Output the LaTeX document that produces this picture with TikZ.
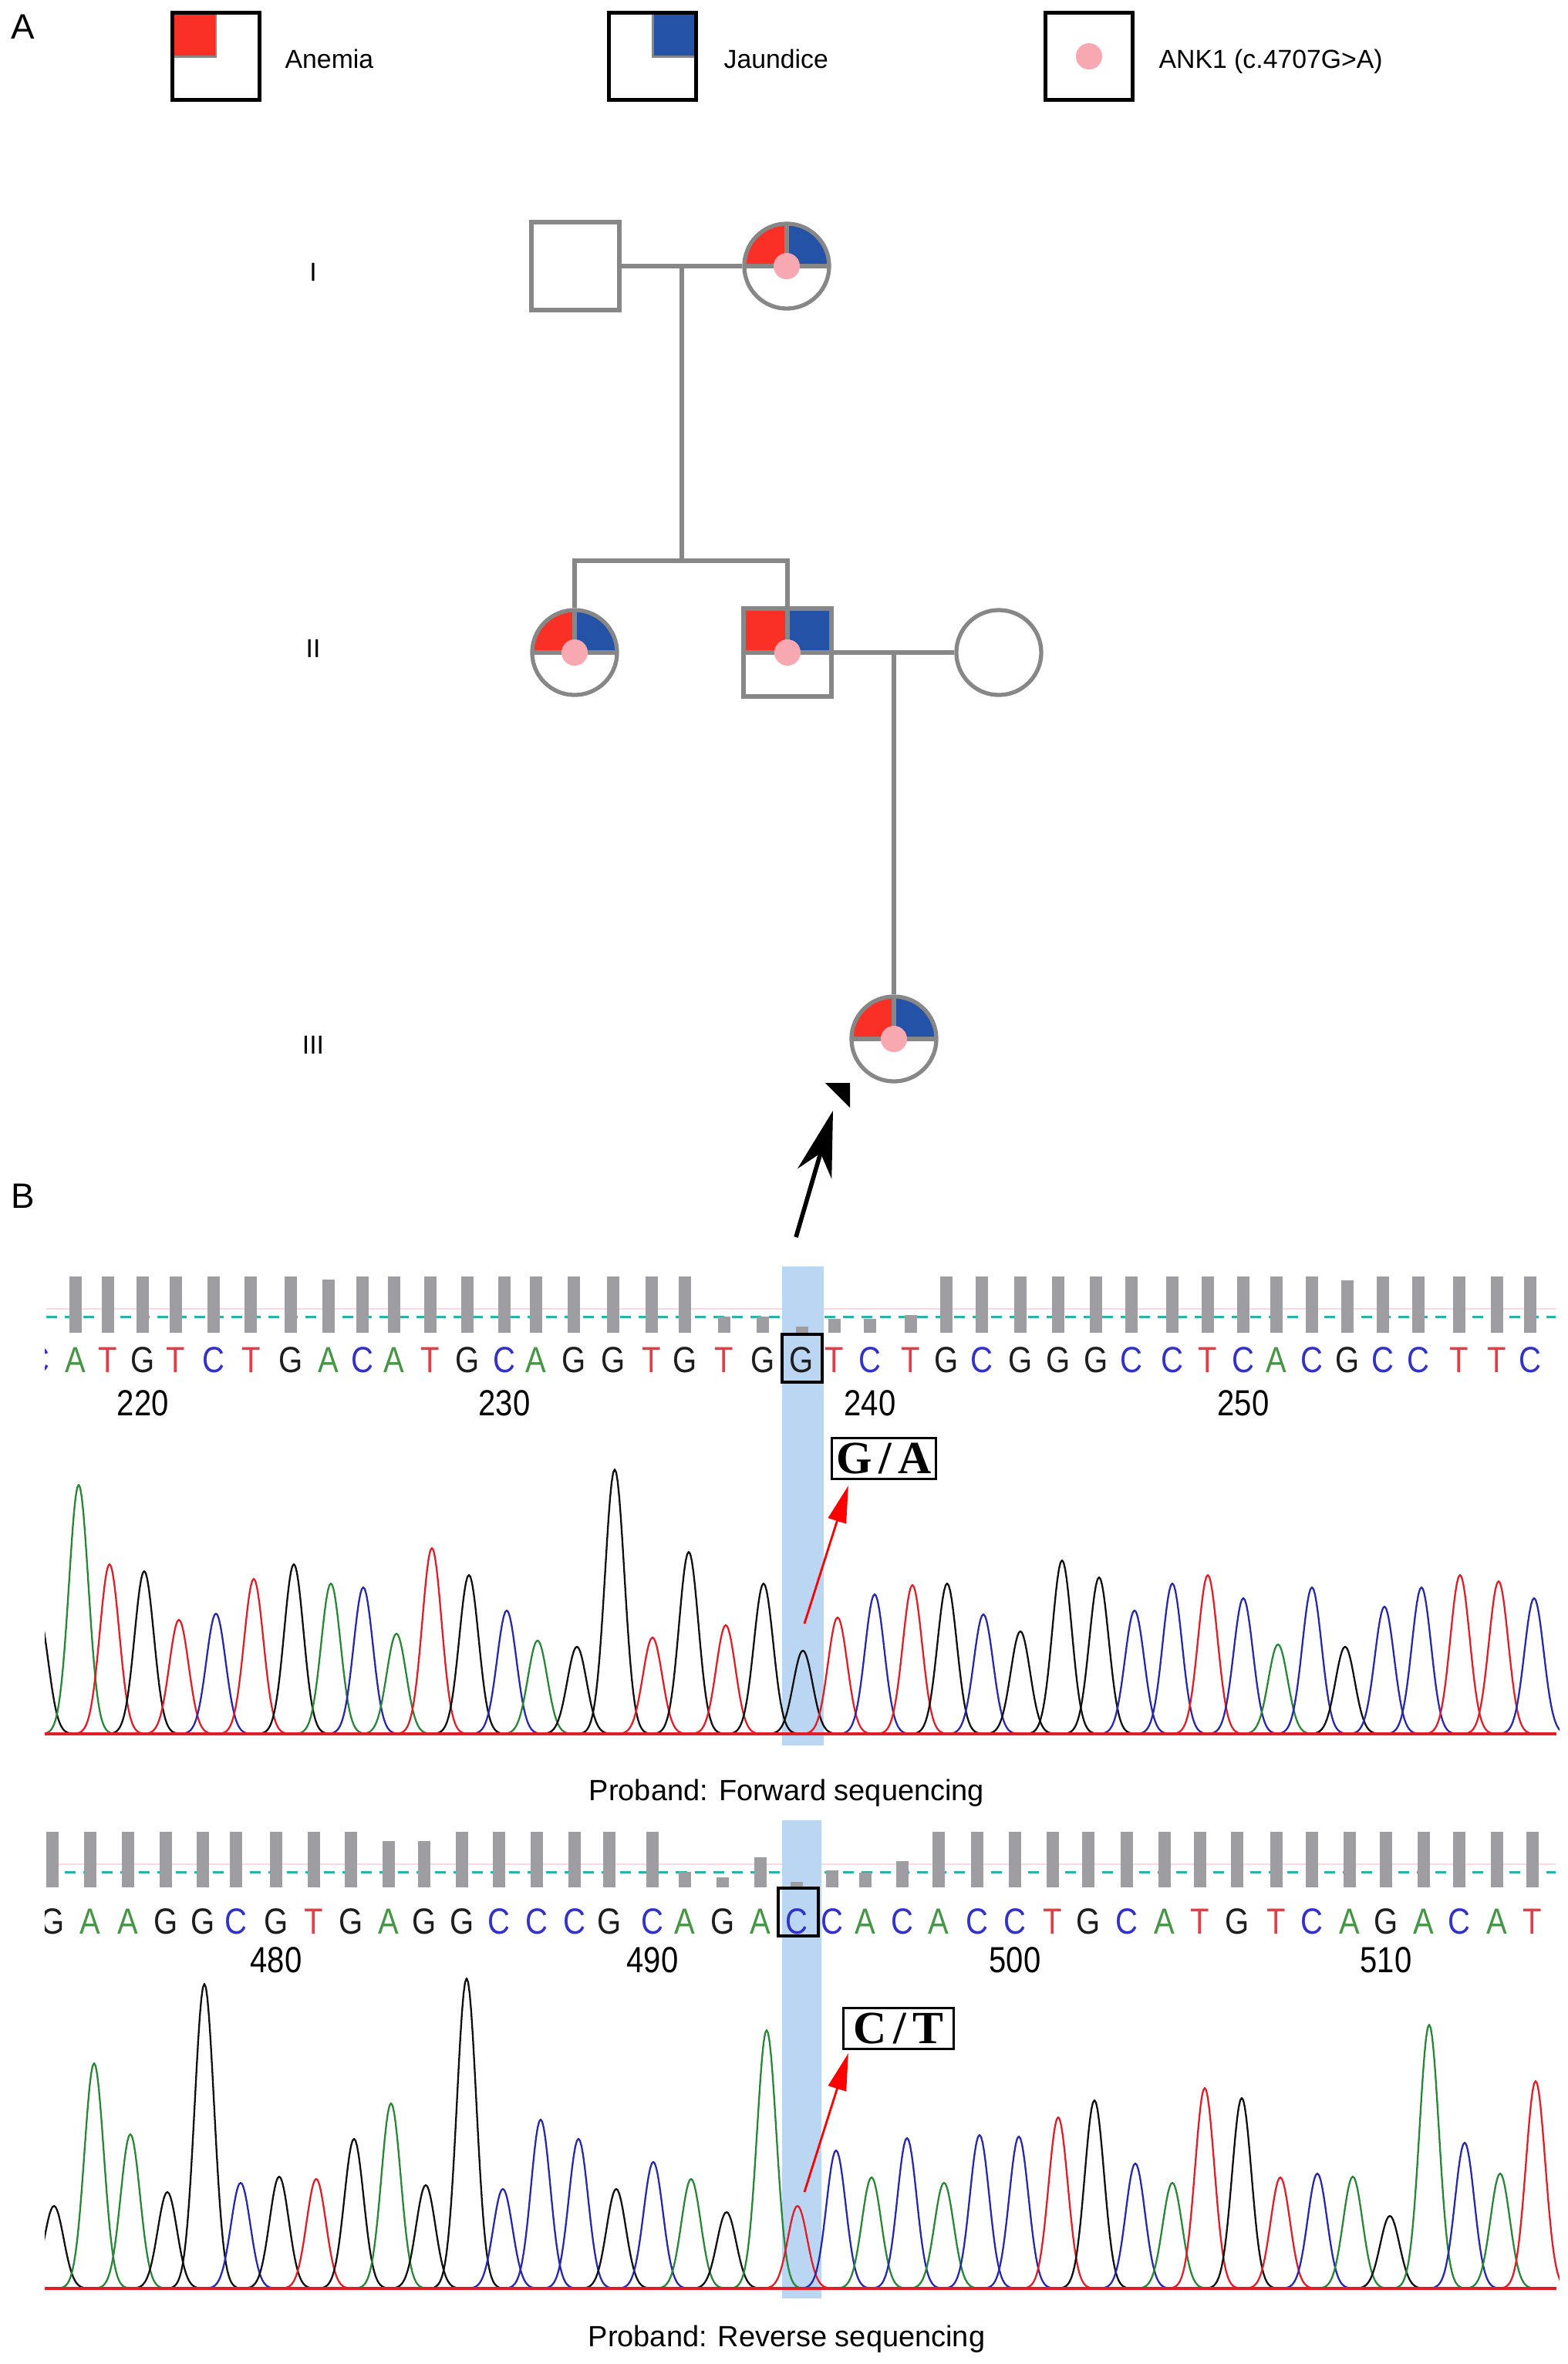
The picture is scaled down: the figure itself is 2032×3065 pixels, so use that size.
\documentclass[tikz,border=0pt]{standalone}
\usepackage{fontspec}
\setmainfont{Liberation Sans}
\newfontfamily\seqfont[FakeStretch=0.85]{Liberation Sans}
\newfontfamily\mutfont[LetterSpace=14]{Liberation Serif}
\usetikzlibrary{calc,arrows.meta}
\definecolor{pedgray}{RGB}{135,135,135}
\definecolor{pedred}{RGB}{250,47,38}
\definecolor{pedblue}{RGB}{36,82,166}
\definecolor{pedpink}{RGB}{248,168,176}
\definecolor{hl}{RGB}{187,214,243}
\definecolor{barg}{RGB}{158,158,162}
\definecolor{dashteal}{RGB}{40,180,165}
\definecolor{tA}{RGB}{40,135,55}
\definecolor{tC}{RGB}{40,40,170}
\definecolor{tG}{RGB}{15,15,15}
\definecolor{tT}{RGB}{225,30,40}
\definecolor{lA}{RGB}{70,150,70}
\definecolor{lC}{RGB}{50,50,200}
\definecolor{lG}{RGB}{30,30,30}
\definecolor{lT}{RGB}{230,60,70}
\definecolor{faintpink}{RGB}{250,215,228}
\newcommand\pk[4]{%
  \pgfmathsetmacro\pka{#1-42}\pgfmathsetmacro\pkb{#1+42}%
  \draw[trace,#3] plot[domain=\pka:\pkb,samples=43] (\x,{#4-(#4-#2)*exp(-0.5*((\x-#1)/12.5)^2)});}
\begin{document}
\begin{tikzpicture}[x=0.01cm,y=-0.01cm,
  ped/.style={draw=pedgray,line width=1.5pt},
  sqnode/.style={ped,rectangle,minimum size=1.14cm,inner sep=0pt,fill=white},
  circnode/.style={ped,circle,minimum size=1.10cm,inner sep=0pt,fill=white},
  affpic/.style={path picture={
     \fill[pedred] (path picture bounding box.north west) rectangle (path picture bounding box.center);
     \fill[pedblue] (path picture bounding box.north east) rectangle (path picture bounding box.center);
     \draw[pedgray,line width=1.5pt] (path picture bounding box.north) -- (path picture bounding box.center);
     \draw[pedgray,line width=1.5pt] (path picture bounding box.west) -- (path picture bounding box.east);
     \fill[pedpink] (path picture bounding box.center) circle[radius=0.17cm];}},
  legbox/.style={draw=black,line width=1.42pt,rectangle,minimum size=1.12cm,inner sep=0pt},
  legtext/.style={font=\fontsize{9.6pt}{11pt}\selectfont,anchor=base west,inner sep=0pt},
  gentext/.style={font=\fontsize{9.6pt}{11pt}\selectfont,anchor=base,inner sep=0pt},
  paneltext/.style={font=\fontsize{13pt}{15pt}\selectfont,anchor=base west,inner sep=0pt},
  captext/.style={font=\fontsize{10.8pt}{13pt}\selectfont,anchor=base,inner sep=0pt},
  seqL/.style={font=\seqfont\fontsize{13.4pt}{15pt}\selectfont,anchor=base,inner sep=0pt},
  trace/.style={line width=0.65pt,line join=round},
  mutbox/.style={draw=black,line width=0.9pt,font=\mutfont\bfseries\fontsize{17pt}{19pt}\selectfont,minimum height=0.53cm,inner sep=0pt},
  redarr/.style={draw=red,line width=0.8pt,-{Triangle[length=0.48cm,width=0.24cm]}},
  dashl/.style={draw=dashteal,line width=0.85pt,dash pattern=on 0.14cm off 0.1cm},
  pinkl/.style={draw=faintpink,line width=0.7pt}
]
\fill[white] (0,0) rectangle (2032,3065);
\useasboundingbox (0,0) rectangle (2032,3065);

% ---------- Panel A ----------
\node[paneltext] (A) at (14,50) {A};
\node[legbox,path picture={\filldraw[fill=pedred,draw=pedgray,line width=0.85pt] (path picture bounding box.north west) rectangle (path picture bounding box.center);}] (L1) at (280,73) {};
\node[legtext] (L1t) at (369,88) {Anemia};
\node[legbox,path picture={\filldraw[fill=pedblue,draw=pedgray,line width=0.85pt] (path picture bounding box.north east) rectangle (path picture bounding box.center);}] (L2) at (846,73) {};
\node[legtext] (L2t) at (938,88) {Jaundice};
\node[legbox,path picture={\fill[pedpink] (path picture bounding box.center) circle[radius=0.17cm];}] (L3) at (1412,73) {};
\node[legtext] (L3t) at (1502,88) {ANK1 (c.4707G>A)};

\node[gentext] (gI) at (406,364) {I};
\node[gentext] (gII) at (406,852) {II};
\node[gentext] (gIII) at (406,1366) {III};

\node[sqnode] (I1) at (746,345) {};
\node[circnode,affpic] (I2) at (1020,345) {};
\node[circnode,affpic] (II1) at (745,846) {};
\node[sqnode,affpic] (II2) at (1021,846) {};
\node[circnode] (II3) at (1295,846) {};
\node[circnode,affpic] (III1) at (1159,1347) {};

\draw[ped] (I1.east) -- (I2.west);
\coordinate (m1) at ($(I1.east)!0.5!(I2.west)$);
\coordinate (sib) at (883,727);
\draw[ped] (m1) -- (m1 |- sib);
\draw[ped] (II1.north) |- (sib) -| (II2.north);
\draw[ped] (II2.east) -- (II3.west);
\coordinate (m2) at ($(II2.east)!0.5!(II3.west)$);
\draw[ped] (m2) -- (m2 |- III1.north);

\fill[black] (1070,1404) -- (1102,1404) -- (1102,1436) -- cycle;
\coordinate (pa) at (1032,1604);
\coordinate (pb) at (1080,1440);
\draw[line width=1.6pt,-{Stealth[length=0.85cm,width=0.46cm]}] (pa) -- (pb);

% ---------- Panel B ----------
\node[paneltext] (B) at (14,1566) {B};

% forward
\draw[pinkl] (60,1697) -- (2017,1697);
\draw[dashl] (60,1707) -- (2017,1707);
\fill[hl] (1014,1642) rectangle (1068,2263);
\begin{scope}
\clip (58,1600) rectangle (2022,2275);
\node[seqL,text=lC] (fL0) at (50,1779) {C};
\foreach \xx/\bs/\tp [count=\i] in {97.6/A/1655,139.9/T/1655,185.4/G/1655,227.7/T/1655,276.5/C/1655,325.3/T/1655,377.4/G/1655,426.2/A/1659,469.7/C/1655,510.7/A/1655,558.2/T/1655,606.4/G/1655,653.9/C/1655,694.9/A/1655,743.6/G/1655,795.0/G/1655,844.5/T/1655,888.1/G/1655,938.8/T/1707,988.9/G/1707,1039.5/G/1720,1082/T/1710,1128/C/1710,1181/T/1705,1227/G/1655,1273/C/1655,1323/G/1655,1372/G/1655,1421/G/1655,1467/C/1655,1520/C/1655,1566/T/1655,1612/C/1655,1655/A/1655,1701/C/1655,1747/G/1660,1793/C/1655,1839/C/1655,1892/T/1655,1941/T/1655,1984/C/1655}{
  \fill[barg] (\xx-8,\tp) rectangle (\xx+8,1728);
  \node[seqL,text=l\bs] (fL\i) at (\xx,1779) {\bs};
}
\foreach \pc/\pt/\pcol in {50/2092/G,102/1925/A,142/2028/T,187/2037/G,232/2100/T,280/2092/C,329/2047/T,381/2028/G,429/2053/A,471/2058/C,514/2118/A,560/2007/T,608/2042/G,657/2088/C,697/2127/A,748/2135/G,797/1905/G,846/2123/T,893/2012/G,941/2107/T,990/2053/G,1041/2140/G,1086/2097/T,1134/2067/C,1183/2055/T,1228/2053/G,1275/2093/C,1323/2115/G,1377/2023/G,1425/2045/G,1471/2088/C,1520/2053/C,1566/2042/T,1612/2072/C,1657/2132/A,1701/2058/C,1744/2135/G,1795/2083/C,1843/2058/C,1893/2042/T,1943/2050/T,1989/2072/C}{
  \pk{\pc}{\pt}{t\pcol}{2248}
}
\draw[tT,line width=0.9pt] (58,2248) -- (2018,2248);
\end{scope}
\draw[black,line width=0.9pt] (1014,1730) rectangle (1066,1792);
\node[seqL] (n220) at (185.4,1835) {220};
\node[seqL] (n230) at (653.9,1835) {230};
\node[seqL] (n240) at (1128,1835) {240};
\node[seqL] (n250) at (1612,1835) {250};
\node[mutbox,minimum width=1.35cm] (GA) at (1146,1891) {G/A};
\coordinate (ga0) at (1043,2105);
\draw[redarr] (ga0) -- ([xshift=0.23cm,yshift=-0.07cm]GA.south west);
\node[captext] (cap1) at (1020,2334) {Proband: Forward sequencing};

% reverse
\draw[pinkl] (60,2417) -- (2017,2417);
\draw[dashl] (60,2427) -- (2017,2427);
\fill[hl] (1014,2360) rectangle (1065,2980);
\begin{scope}
\clip (58,2340) rectangle (2022,2990);
\foreach \xx/\bs/\tp [count=\i] in {68/G/2375,117/A/2375,166/A/2375,215/G/2375,263/G/2375,306/C/2375,358/G/2375,407/T/2375,455/G/2375,504/A/2387,550/G/2387,599/G/2375,647/C/2375,696/C/2375,745/C/2375,790/G/2375,846/C/2375,888/A/2427,937/G/2434,986/A/2408,1033/C/2440,1079/C/2425,1122/A/2428,1170/C/2413,1217/A/2375,1267/C/2375,1316/C/2375,1365/T/2375,1411/G/2375,1461/C/2375,1510/A/2375,1556/T/2375,1604/G/2375,1655/T/2375,1701/C/2375,1750/A/2375,1797/G/2375,1846/A/2375,1892/C/2375,1941/A/2375,1987/T/2375}{
  \fill[barg] (\xx-8,\tp) rectangle (\xx+8,2447);
  \node[seqL,text=l\bs] (rL\i) at (\xx,2507) {\bs};
}
\foreach \pc/\pt/\pcol in {70/2860/G,122/2675/A,169/2767/A,217/2842/G,265/2572/G,312/2830/C,362/2822/G,410/2825/T,459/2773/G,507/2727/A,552/2833/G,605/2565/G,652/2838/C,701/2748/C,750/2773/C,799/2838/G,847/2803/C,896/2825/A,942/2868/G,994/2632/A,1034/2860/T,1084/2788/C,1130/2823/A,1176/2772/C,1224/2830/A,1270/2768/C,1321/2770/C,1372/2745/T,1419/2723/G,1472/2805/C,1520/2830/A,1562/2707/T,1610/2720/G,1660/2823/T,1708/2818/C,1754/2822/A,1802/2873/G,1853/2625/A,1899/2778/C,1945/2818/A,1991/2698/T}{
  \pk{\pc}{\pt}{t\pcol}{2967}
}
\draw[tT,line width=0.9pt] (58,2967) -- (2018,2967);
\end{scope}
\draw[black,line width=0.9pt] (1009,2448) rectangle (1061,2510);
\node[seqL] (n480) at (358,2557) {480};
\node[seqL] (n490) at (846,2557) {490};
\node[seqL] (n500) at (1316,2557) {500};
\node[seqL] (n510) at (1797,2557) {510};
\node[mutbox,minimum width=1.43cm] (CT) at (1165,2630) {C/T};
\coordinate (ct0) at (1043,2842);
\draw[redarr] (ct0) -- ([xshift=0.08cm,yshift=-0.04cm]CT.south west);
\node[captext] (cap2) at (1020,3042) {Proband: Reverse sequencing};
\end{tikzpicture}
\end{document}
